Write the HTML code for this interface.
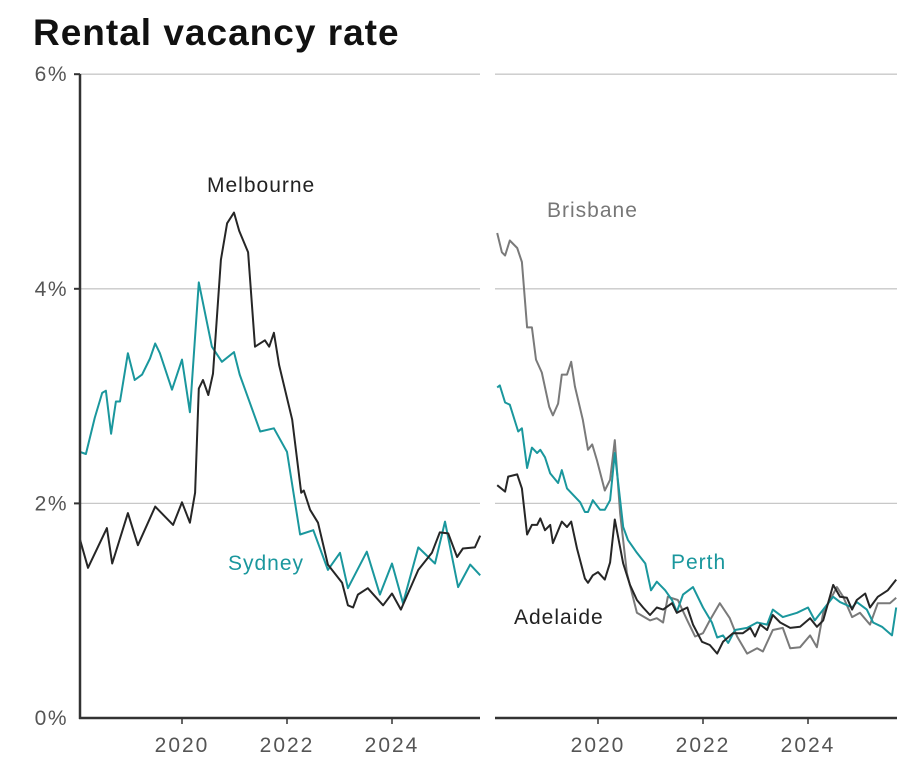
<!DOCTYPE html>
<html><head><meta charset="utf-8"><style>
body{margin:0;background:#fff;width:922px;height:775px;overflow:hidden;font-family:"Liberation Sans",sans-serif}
h1{position:absolute;left:33px;top:12px;margin:0;font-size:37px;font-weight:bold;color:#111;letter-spacing:1px}
</style></head><body>
<h1>Rental vacancy rate</h1>
<svg id="c" width="922" height="775" style="position:absolute;left:0;top:0"></svg>
<script>
const yTicks=[0,2,4,6];
const yTickLabels=["0%","2%","4%","6%"];
const xTicks=[2020,2022,2024];
const xTickLabels=["2020","2022","2024"];
const sydneyDates=[2018.06,2018.17,2018.34,2018.48,2018.55,2018.65,2018.74,2018.82,2018.97,2019.10,2019.24,2019.39,2019.49,2019.58,2019.81,2020.00,2020.15,2020.32,2020.57,2020.76,2020.99,2021.10,2021.49,2021.75,2022.00,2022.25,2022.50,2022.78,2023.01,2023.16,2023.52,2023.77,2024.00,2024.21,2024.50,2024.82,2025.01,2025.26,2025.49,2025.68];
const sydneyValues=[2.48,2.46,2.8,3.03,3.05,2.65,2.95,2.95,3.40,3.15,3.2,3.35,3.49,3.4,3.06,3.34,2.85,4.06,3.46,3.32,3.41,3.2,2.67,2.70,2.48,1.71,1.75,1.38,1.54,1.21,1.55,1.15,1.44,1.07,1.59,1.44,1.83,1.22,1.43,1.33];
const melbDates=[2018.06,2018.21,2018.57,2018.67,2018.97,2019.16,2019.49,2019.83,2020.00,2020.15,2020.25,2020.32,2020.40,2020.50,2020.59,2020.74,2020.86,2020.99,2021.09,2021.26,2021.39,2021.58,2021.66,2021.75,2021.85,2022.10,2022.27,2022.32,2022.44,2022.59,2022.78,2023.05,2023.16,2023.26,2023.35,2023.54,2023.83,2024.00,2024.17,2024.50,2024.76,2024.91,2025.07,2025.24,2025.35,2025.58,2025.68];
const melbValues=[1.66,1.40,1.77,1.44,1.91,1.61,1.97,1.80,2.01,1.82,2.1,3.07,3.15,3.01,3.21,4.27,4.61,4.71,4.54,4.34,3.46,3.52,3.46,3.59,3.29,2.78,2.10,2.12,1.94,1.82,1.43,1.26,1.05,1.03,1.15,1.21,1.05,1.16,1.01,1.38,1.54,1.73,1.72,1.50,1.58,1.59,1.70];
const brisDates=[2018.08,2018.17,2018.23,2018.32,2018.46,2018.55,2018.65,2018.74,2018.82,2018.93,2019.07,2019.14,2019.24,2019.31,2019.41,2019.49,2019.56,2019.71,2019.81,2019.89,2019.98,2020.13,2020.23,2020.32,2020.42,2020.55,2020.74,2020.99,2021.12,2021.24,2021.33,2021.52,2021.70,2021.85,2022.00,2022.13,2022.32,2022.51,2022.65,2022.84,2023.03,2023.14,2023.33,2023.52,2023.66,2023.85,2024.04,2024.17,2024.29,2024.55,2024.67,2024.84,2024.99,2025.18,2025.33,2025.56,2025.68];
const brisValues=[4.52,4.34,4.31,4.45,4.38,4.25,3.64,3.64,3.34,3.22,2.90,2.82,2.93,3.2,3.2,3.32,3.09,2.78,2.5,2.55,2.4,2.12,2.22,2.59,1.91,1.35,0.98,0.91,0.93,0.89,1.13,1.10,0.91,0.76,0.79,0.91,1.07,0.93,0.76,0.60,0.65,0.62,0.82,0.84,0.65,0.66,0.77,0.66,0.98,1.22,1.13,0.94,0.98,0.87,1.07,1.07,1.12];
const perthDates=[2018.08,2018.13,2018.23,2018.32,2018.48,2018.55,2018.65,2018.74,2018.84,2018.90,2018.99,2019.09,2019.24,2019.31,2019.41,2019.66,2019.75,2019.81,2019.90,2020.04,2020.13,2020.23,2020.32,2020.48,2020.57,2020.74,2020.90,2021.01,2021.12,2021.28,2021.41,2021.50,2021.62,2021.81,2022.00,2022.17,2022.27,2022.38,2022.48,2022.61,2022.84,2023.03,2023.22,2023.33,2023.52,2023.79,2024.00,2024.13,2024.29,2024.48,2024.61,2024.84,2024.93,2025.12,2025.24,2025.41,2025.60,2025.68];
const perthValues=[3.08,3.10,2.94,2.92,2.67,2.70,2.33,2.52,2.47,2.50,2.43,2.28,2.19,2.31,2.14,2.01,1.92,1.92,2.03,1.94,1.94,2.03,2.47,1.78,1.66,1.54,1.44,1.19,1.27,1.19,1.10,0.99,1.15,1.22,1.03,0.89,0.75,0.77,0.70,0.82,0.84,0.89,0.87,1.01,0.94,0.98,1.03,0.91,1.01,1.13,1.08,1.03,1.08,1.01,0.89,0.85,0.77,1.03];
const adelDates=[2018.08,2018.23,2018.29,2018.46,2018.55,2018.65,2018.74,2018.84,2018.90,2018.99,2019.09,2019.14,2019.31,2019.41,2019.49,2019.60,2019.75,2019.81,2019.90,2020.00,2020.13,2020.23,2020.32,2020.48,2020.61,2020.74,2020.86,2020.99,2021.12,2021.24,2021.41,2021.50,2021.70,2021.81,2021.98,2022.13,2022.27,2022.38,2022.57,2022.76,2022.90,2022.99,2023.09,2023.22,2023.33,2023.47,2023.66,2023.85,2024.04,2024.17,2024.29,2024.48,2024.61,2024.74,2024.84,2024.93,2025.09,2025.18,2025.33,2025.52,2025.68];
const adelValues=[2.17,2.11,2.25,2.27,2.14,1.71,1.80,1.80,1.86,1.75,1.80,1.63,1.83,1.78,1.83,1.58,1.30,1.26,1.33,1.36,1.29,1.45,1.85,1.44,1.24,1.10,1.03,0.96,1.03,1.01,1.07,0.98,1.03,0.87,0.71,0.68,0.60,0.71,0.79,0.79,0.84,0.76,0.87,0.82,0.96,0.89,0.84,0.85,0.93,0.85,0.91,1.24,1.13,1.12,1.01,1.10,1.16,1.03,1.13,1.19,1.29];

const NS='http://www.w3.org/2000/svg';
const svg=document.getElementById('c');
const Y0=718,PX=107.3;
function yS(v){return Y0-v*PX;}
function xL(t){return 182+(t-2020)*52.5;}
function xR(t){return 598+(t-2020)*52.5;}
function mk(tag,attrs,parent){const e=document.createElementNS(NS,tag);for(const k in attrs)e.setAttribute(k,attrs[k]);(parent||svg).appendChild(e);return e;}

yTicks.forEach((v,i)=>{
  if(v===0)return;
  const g1=mk('line',{x1:80,x2:480,y1:yS(v),y2:yS(v),stroke:'#c8c8c8','stroke-width':1.3});
  
  
  const g2=mk('line',{x1:495,x2:897,y1:yS(v),y2:yS(v),stroke:'#c8c8c8','stroke-width':1.3});
  
  
  const tk=mk('line',{x1:74,x2:80,y1:yS(v),y2:yS(v),stroke:'#333','stroke-width':2});
  
  
});
yTicks.forEach((v,i)=>{
  const t=mk('text',{x:68,y:yS(v)+7,'text-anchor':'end','font-size':21,'letter-spacing':1.5,fill:'#555','font-family':'Liberation Sans'});
  t.textContent=yTickLabels[i];
  
  
});
xTicks.forEach((v,i)=>{
  [xL(v),xR(v)].forEach(x=>{
    const tk=mk('line',{x1:x,x2:x,y1:718,y2:724,stroke:'#333','stroke-width':1.5});
    
    
    const t=mk('text',{x:x,y:752,'text-anchor':'middle','font-size':21,'letter-spacing':2,fill:'#555','font-family':'Liberation Sans'});
    t.textContent=xTickLabels[i];
    
    
  });
});

function line(dates,vals,xf,color,name,w){
  const d=dates.map((t,i)=>(i?'L':'M')+xf(t).toFixed(1)+','+yS(vals[i]).toFixed(1)).join('');
  const p=mk('path',{d:d,fill:'none',stroke:color,'stroke-width':w||2,'stroke-linejoin':'round'});
  
  
}
line(sydneyDates,sydneyValues,xL,'#1a979d','sydney-line');
line(melbDates,melbValues,xL,'#262626','melbourne-line');
line(brisDates,brisValues,xR,'#7a7a7a','brisbane-line');
line(perthDates,perthValues,xR,'#1a979d','perth-line');
line(adelDates,adelValues,xR,'#262626','adelaide-line');

const ax=mk('line',{x1:80,x2:80,y1:74,y2:719,stroke:'#333','stroke-width':2.5});


const b1=mk('line',{x1:79,x2:480,y1:718,y2:718,stroke:'#333','stroke-width':2.5});


const b2=mk('line',{x1:495,x2:897,y1:718,y2:718,stroke:'#333','stroke-width':2.5});



function lab(txt,x,y,color,name){
  const t=mk('text',{x:x,y:y,'font-size':21,'letter-spacing':1,fill:color,'font-family':'Liberation Sans'});
  t.textContent=txt;
  
  
}
lab('Melbourne',207,192,'#222','melbourne-label');
lab('Sydney',228,570,'#1a979d','sydney-label');
lab('Brisbane',547,217,'#777','brisbane-label');
lab('Perth',671,569,'#1a979d','perth-label');
lab('Adelaide',514,624,'#222','adelaide-label');
</script>
</body></html>
